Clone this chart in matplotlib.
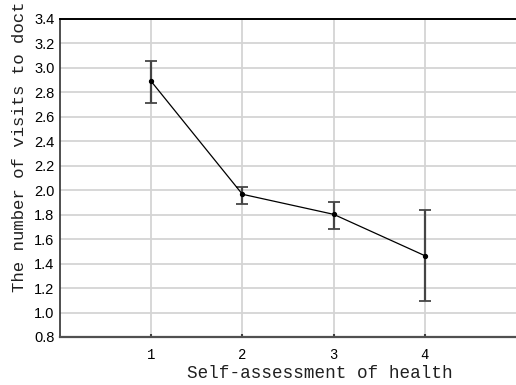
import matplotlib
matplotlib.use("Agg")
import matplotlib.pyplot as plt

# donnees
health = [1, 2, 3, 4]
visits_mean = [2.89, 1.967, 1.803, 1.465]
err_low = [2.713, 1.887, 1.685, 1.092]
err_high = [3.054, 2.03, 1.906, 1.835]
y_ticks = [0.8, 1.0, 1.2, 1.4, 1.6, 1.8, 2.0, 2.2, 2.4, 2.6, 2.8, 3.0, 3.2, 3.4]

yerr = [[m - lo for m, lo in zip(visits_mean, err_low)],
        [hi - m for m, hi in zip(visits_mean, err_high)]]

fig = plt.figure(figsize=(5.16, 3.85), dpi=100)
ax = fig.add_axes([60 / 516, 48 / 385, 1 - 60 / 516, (337 - 19) / 385])

ax.grid(True, color="#d4d4d4", linewidth=1.3, zorder=0)
ax.set_axisbelow(True)

ax.errorbar(health, visits_mean, yerr=yerr, fmt="none", ecolor="#454545",
            elinewidth=1.6, capsize=4, capthick=1.3, zorder=3)
ax.plot(health, visits_mean, color="black", linewidth=0.9, marker="o",
        markersize=2.8, zorder=4)

ax.set_xlim(0, 5)
ax.set_ylim(0.8, 3.4)
ax.set_xticks(health)
ax.set_yticks(y_ticks)
ax.set_yticklabels([f"{v:.1f}" for v in y_ticks], family="Liberation Sans", fontsize=10.5)
ax.set_xticklabels([str(v) for v in health], family="Liberation Mono", fontsize=10)
ax.tick_params(axis="x", direction="in", length=2, width=1.5, color="#404040", pad=8)
ax.tick_params(axis="y", length=0, pad=4)

ax.spines["right"].set_visible(False)
ax.spines["top"].set_linewidth(1.4)
ax.spines["top"].set_color("black")
ax.spines["left"].set_linewidth(1.2)
ax.spines["left"].set_color("#303030")
ax.spines["bottom"].set_linewidth(1.6)
ax.spines["bottom"].set_color("#505050")

fig.text(320 / 516, 12 / 385, "Self-assessment of health", family="Liberation Mono",
         fontsize=12.7, ha="center", va="center", color="#202020")
# le titre de l'axe y est coupe en haut dans l'original
fig.text(20 / 516, 93 / 385, "The number of visits to doct", family="Liberation Mono",
         fontsize=12.5, rotation=90, ha="center", va="bottom", color="#202020")

fig.savefig("out.png", dpi=100)
